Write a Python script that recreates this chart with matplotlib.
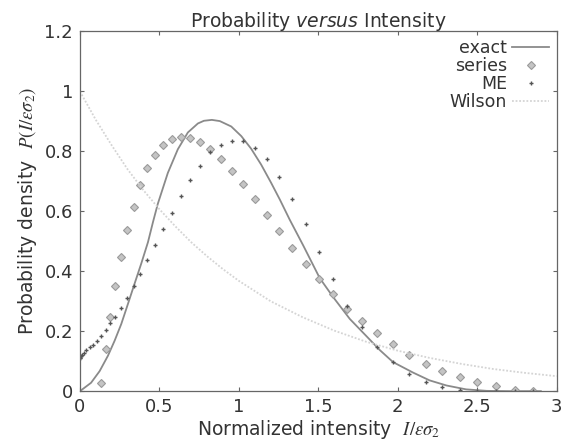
import matplotlib
matplotlib.use("Agg")
import matplotlib.pyplot as plt
from matplotlib.ticker import FuncFormatter

plt.rcParams['font.family'] = ['DejaVu Sans']

# exact curve
ex_x = [0, 0.07, 0.124, 0.176, 0.218, 0.26, 0.302, 0.344, 0.386, 0.428, 0.46, 0.49,
        0.553, 0.616, 0.679, 0.742, 0.78, 0.83, 0.88, 0.952, 1.015, 1.077, 1.14, 1.203,
        1.258, 1.32, 1.405, 1.509, 1.593, 1.698, 1.80, 1.887, 1.97, 2.096, 2.2, 2.306,
        2.43, 2.56, 2.7, 2.9]
ex_y = [0, 0.028, 0.067, 0.118, 0.168, 0.224, 0.291, 0.359, 0.426, 0.497, 0.565, 0.625,
        0.728, 0.807, 0.863, 0.893, 0.902, 0.905, 0.901, 0.883, 0.851, 0.809, 0.756, 0.695,
        0.639, 0.572, 0.486, 0.377, 0.314, 0.241, 0.185, 0.137, 0.097, 0.062, 0.036, 0.019,
        0.006, 0.001, 0, 0]

# sample grid shared by series and ME
grid_x = [0.134, 0.162, 0.191, 0.222, 0.256, 0.297, 0.338, 0.378, 0.424, 0.474,
          0.525, 0.58, 0.634, 0.691, 0.755, 0.82, 0.889, 0.955, 1.026, 1.10,
          1.176, 1.252, 1.336, 1.42, 1.507, 1.59, 1.68, 1.774, 1.87, 1.97,
          2.072, 2.175, 2.28, 2.39, 2.50, 2.615, 2.735, 2.85]
series_y = [0.026, 0.14, 0.246, 0.35, 0.446, 0.538, 0.616, 0.687, 0.743, 0.788,
            0.82, 0.84, 0.849, 0.845, 0.831, 0.807, 0.773, 0.735, 0.691, 0.641,
            0.588, 0.534, 0.478, 0.425, 0.374, 0.323, 0.275, 0.233, 0.193, 0.156,
            0.121, 0.092, 0.067, 0.046, 0.030, 0.016, 0.004, 0.0]

me_x0 = [0.0, 0.003, 0.008, 0.015, 0.025, 0.04, 0.061, 0.083, 0.108]
me_y0 = [0.110, 0.112, 0.116, 0.121, 0.128, 0.137, 0.146, 0.155, 0.168]
me_y = [0.184, 0.204, 0.226, 0.249, 0.278, 0.311, 0.35, 0.391, 0.437, 0.487,
        0.54, 0.594, 0.65, 0.704, 0.75, 0.798, 0.82, 0.836, 0.835, 0.812,
        0.773, 0.715, 0.641, 0.557, 0.463, 0.373, 0.284, 0.213, 0.146, 0.097,
        0.057, 0.030, 0.013, 0.003, 0.0, 0.0, 0.0, 0.0]

# Wilson distribution
wil_x = [0, 0.1, 0.2, 0.3, 0.4, 0.5, 0.6, 0.7, 0.8, 0.9, 1.0, 1.2, 1.4, 1.6, 1.8,
         2.0, 2.2, 2.4, 2.6, 2.8, 3.0]
wil_y = [1.0, 0.905, 0.82, 0.74, 0.67, 0.607, 0.55, 0.497, 0.45, 0.407, 0.368, 0.30,
         0.247, 0.202, 0.165, 0.135, 0.111, 0.091, 0.074, 0.061, 0.05]

txt = '#333333'
fig = plt.figure(figsize=(5.71, 4.43), dpi=100)
ax = fig.add_axes([0.14, 0.117, 0.835, 0.812])

ax.plot(ex_x, ex_y, color='#8a8a8a', lw=1.3, label='exact')
ax.plot(grid_x, series_y, ls='none', marker='D', ms=3.8, mfc='#c4c4c4',
        mec='#9a9a9a', mew=0.8, label='series')
ax.plot(me_x0 + grid_x, me_y0 + me_y, ls='none', marker='+', ms=3, mew=1.0,
        color='#555555', label='ME')
ax.plot(wil_x, wil_y, color='#d4d4d4', lw=1.3, ls=(0, (1, 1)), label='Wilson')

ax.set_xlim(0, 3)
ax.set_ylim(0, 1.2)
ax.set_xticks([0, 0.5, 1, 1.5, 2, 2.5, 3])
ax.set_yticks([0, 0.2, 0.4, 0.6, 0.8, 1.0, 1.2])
fmt = FuncFormatter(lambda v, p: '%g' % v)
ax.xaxis.set_major_formatter(fmt)
ax.yaxis.set_major_formatter(fmt)
ax.tick_params(direction='in', length=3, width=0.8, top=True, right=True,
               labelsize=13, colors='#666666', labelcolor=txt, pad=5)
for s in ax.spines.values():
    s.set_color('#666666')
    s.set_linewidth(0.9)

ax.set_title(r'Probability $\mathit{versus}$ Intensity', fontsize=13.5, color=txt,
             math_fontfamily='dejavusans', pad=3)
ax.set_xlabel(r'Normalized intensity  $I/\varepsilon\sigma_2$', fontsize=13.5,
              color=txt, math_fontfamily='stix', labelpad=1)
ax.set_ylabel(r'Probability density  $P(I/\varepsilon\sigma_2)$', fontsize=13.5,
              color=txt, math_fontfamily='stix', labelpad=4)

leg = ax.legend(loc='upper right', frameon=False, markerfirst=False, fontsize=12.5,
                handlelength=2.1, handletextpad=0.3, labelspacing=0.0,
                borderaxespad=0.05)
for t in leg.get_texts():
    t.set_color(txt)

fig.savefig('out.png', dpi=100)
